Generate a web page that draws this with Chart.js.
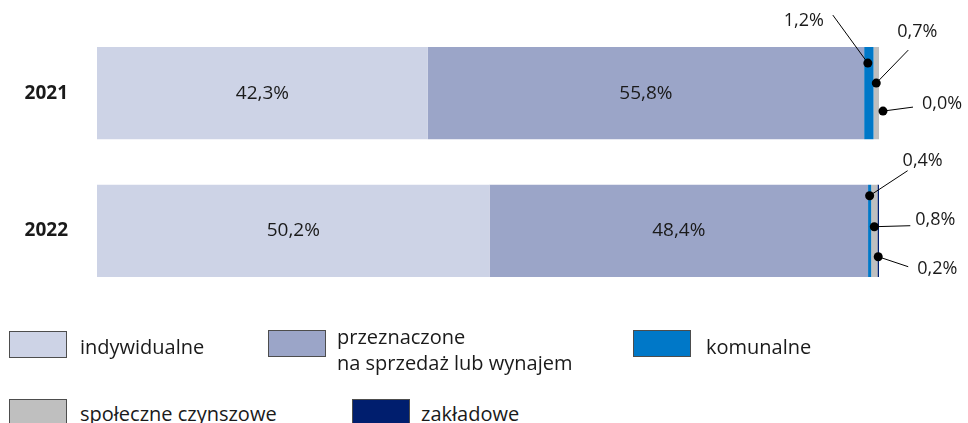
<!DOCTYPE html>
<html lang="pl">
<head>
<meta charset="utf-8">
<script src="https://cdn.jsdelivr.net/npm/chart.js@4.4.1/dist/chart.umd.min.js"></script>
<style>
  html, body { margin: 0; padding: 0; background: #fff; }
  body { width: 968px; height: 423px; overflow: hidden; position: relative; font-family: "Open Sans", sans-serif; color: #1a1a1a; }
  #wrap { position: absolute; left: 0; top: -8px; width: 968px; height: 340px; }
  .lg-box { position: absolute; width: 56px; height: 25px; border: 1px solid #4d4d4d; box-sizing: content-box; }
  .lg-txt { position: absolute; font-size: 20px; line-height: 26px; white-space: nowrap; }
</style>
</head>
<body>
<div id="wrap"><canvas id="housingChart"></canvas></div>

<div class="lg-box" style="left:9px;top:331px;background:#cdd3e6"></div>
<div class="lg-txt" style="left:80px;top:334px">indywidualne</div>
<div class="lg-box" style="left:268px;top:330px;background:#9ba5c8"></div>
<div class="lg-txt" style="left:337px;top:324px">przeznaczone<br>na sprzedaż lub wynajem</div>
<div class="lg-box" style="left:633px;top:330px;background:#0078c8"></div>
<div class="lg-txt" style="left:706px;top:334px">komunalne</div>
<div class="lg-box" style="left:9px;top:399px;background:#bfbfbf"></div>
<div class="lg-txt" style="left:80px;top:401px">społeczne czynszowe</div>
<div class="lg-box" style="left:352px;top:399px;background:#001e6e"></div>
<div class="lg-txt" style="left:421px;top:401px">zakładowe</div>

<script>
const years = ['2021', '2022'];
const indywidualne = [42.3, 50.2];
const naSprzedaz = [55.8, 48.4];
const komunalne = [1.2, 0.4];
const spoleczne = [0.7, 0.8];
const zakladowe = [0.0, 0.2];

// callouts for the thin segments: dataset, year, dot offset, line end and label position (relative to dot)
const callouts = [
    { ds: 2, i: 0, dx: -1, dy: 16, lx: -35, ly: -48, tx: -44, ty: -42, align: 'right' },
    { ds: 3, i: 0, dx: 0, dy: 36, lx: 32, ly: -33, tx: 21, ty: -51, align: 'left' },
    { ds: 4, i: 0, dx: 4, dy: 64, lx: 30, ly: -4, tx: 39, ty: -7, align: 'left' },
    { ds: 2, i: 1, dx: 0, dy: 11, lx: 38, ly: -25, tx: 33, ty: -35, align: 'left' },
    { ds: 3, i: 1, dx: 0, dy: 42, lx: 36, ly: -1, tx: 41, ty: -7, align: 'left' },
    { ds: 4, i: 1, dx: 0, dy: 72, lx: 30, ly: 10, tx: 39, ty: 12, align: 'left' }
];

const fmt = v => v.toFixed(1).replace('.', ',') + '%';

const labelsPlugin = {
    id: 'barLabels',
    afterDraw(chart) {
        const ctx = chart.ctx;
        ctx.save();
        ctx.fillStyle = '#1a1a1a';
        ctx.textBaseline = 'middle';
        // big segments: value in the middle
        ctx.font = '19px "Open Sans"';
        [0, 1].forEach(ds => {
            const meta = chart.getDatasetMeta(ds);
            meta.data.forEach((bar, i) => {
                ctx.textAlign = 'center';
                ctx.fillText(fmt(chart.data.datasets[ds].data[i]), (bar.x + bar.base) / 2, bar.y);
            });
        });
        // small segments: dot + leader line
        ctx.font = '18px "Open Sans"';
        callouts.forEach(c => {
            const bar = chart.getDatasetMeta(c.ds).data[c.i];
            const px = (bar.x + bar.base) / 2 + c.dx;
            const py = bar.y - bar.height / 2 + c.dy;
            ctx.strokeStyle = '#000';
            ctx.lineWidth = 1;
            ctx.beginPath();
            ctx.moveTo(px, py);
            ctx.lineTo(px + c.lx, py + c.ly);
            ctx.stroke();
            ctx.fillStyle = '#000';
            ctx.beginPath();
            ctx.arc(px, py, 4.5, 0, Math.PI * 2);
            ctx.fill();
            ctx.fillStyle = '#1a1a1a';
            ctx.textAlign = c.align;
            ctx.fillText(fmt(chart.data.datasets[c.ds].data[c.i]), px + c.tx, py + c.ty);
        });
        ctx.restore();
    }
};

const ctx = document.getElementById('housingChart').getContext('2d');
const housingChart = new Chart(ctx, {
    type: 'bar',
    data: {
        labels: years,
        datasets: [
            { label: 'indywidualne', data: indywidualne, backgroundColor: '#cdd3e6' },
            { label: 'przeznaczone na sprzedaż lub wynajem', data: naSprzedaz, backgroundColor: '#9ba5c8' },
            { label: 'komunalne', data: komunalne, backgroundColor: '#0078c8' },
            { label: 'społeczne czynszowe', data: spoleczne, backgroundColor: '#bfbfbf' },
            { label: 'zakładowe', data: zakladowe, backgroundColor: '#001e6e' }
        ]
    },
    options: {
        indexAxis: 'y',
        responsive: true,
        maintainAspectRatio: false,
        animation: false,
        datasets: {
            bar: { barPercentage: 0.67, categoryPercentage: 1, borderWidth: 0 }
        },
        layout: { autoPadding: false, padding: { top: 16, right: 89, bottom: 13, left: 0 } },
        scales: {
            x: { stacked: true, min: 0, max: 100, display: false },
            y: {
                stacked: true,
                grid: { display: false },
                border: { display: false },
                ticks: {
                    color: '#1a1a1a',
                    padding: 21,
                    font: { family: '"Open Sans"', size: 19, weight: 'bold' }
                },
                afterFit(scale) { scale.width = 97; }
            }
        },
        plugins: {
            legend: { display: false },
            tooltip: { enabled: false }
        }
    },
    plugins: [labelsPlugin]
});
</script>
</body>
</html>
